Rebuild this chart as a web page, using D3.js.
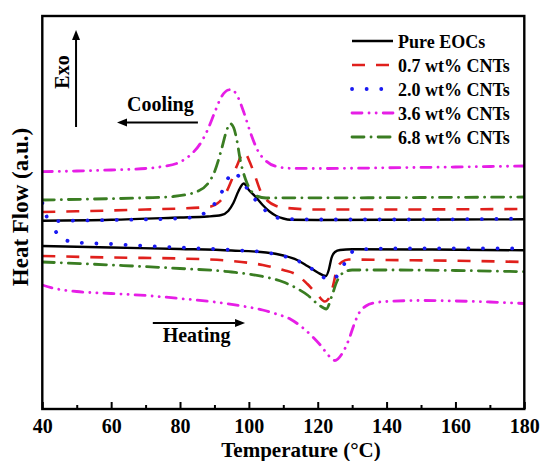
<!DOCTYPE html>
<html>
<head>
<meta charset="utf-8">
<script src="https://cdn.jsdelivr.net/npm/d3@7"></script>
<style>
  body { margin: 0; background: #fff; }
  svg { display: block; }
  text { font-family: "Liberation Serif", "Times New Roman", serif; font-weight: bold; fill: #000; }
</style>
</head>
<body>
<div id="chart"></div>
<script>
// DSC curves: temperature (°C) vs heat flow (a.u., exo up)
const tempTicks = [40, 60, 80, 100, 120, 140, 160, 180];
const minorTicks = [50, 70, 90, 110, 130, 150, 170];
const seriesNames = ["Pure EOCs", "0.7 wt% CNTs", "2.0 wt% CNTs", "3.6 wt% CNTs", "6.8 wt% CNTs"];

// cooling scans
const pureCool = [[40,-22.07],[60,-21.98],[80,-21.75],[88,-21.65],[92,-21.50],[94,-21.10],[95.5,-20.30],[97,-19.10],[98.5,-18.35],[100,-19.00],[102,-19.70],[104,-20.50],[106,-21.15],[108,-21.60],[110,-21.85],[112,-21.98],[120,-22.00],[140,-21.98],[160,-21.95],[180,-21.93]];
const cnt07Cool = [[40,-21.20],[50,-21.13],[60,-21.05],[70,-20.95],[80,-20.85],[86,-20.75],[89,-20.65],[91,-20.30],[93,-19.50],[95,-18.00],[96.5,-16.60],[98.7,-15.20],[100,-16.00],[101.5,-17.30],[103.5,-19.20],[105.5,-20.10],[108,-20.60],[111,-20.80],[120,-20.95],[140,-20.95],[160,-20.93],[180,-20.90]];
const cnt20Cool = [[40,-20.30],[40.8,-20.60],[41.3,-21.70],[42.3,-22.15],[46,-22.10],[60,-22.00],[80,-21.85],[86,-21.50],[88,-21.10],[90,-20.40],[92,-19.30],[94,-17.80],[95.5,-17.20],[97,-17.60],[99,-18.60],[101,-19.60],[103,-20.40],[105,-21.10],[107,-21.55],[110,-21.90],[120,-21.95],[140,-21.95],[160,-21.93],[180,-21.85]];
const cnt36Cool = [[40,-17.17],[50,-17.10],[60,-17.00],[70,-16.85],[75,-16.65],[80,-16.20],[83,-15.50],[86,-14.30],[88,-13.00],[90,-11.30],[92,-9.70],[94,-9.00],[95,-8.95],[96.5,-9.50],[98.5,-11.20],[100.5,-13.30],[102.5,-15.00],[105,-16.10],[108,-16.65],[112,-16.83],[120,-16.85],[140,-16.78],[160,-16.70],[180,-16.60]];
const cnt68Cool = [[40,-20.00],[55,-19.90],[70,-19.78],[78,-19.65],[82,-19.45],[85,-19.15],[88,-18.40],[90,-17.20],[92,-15.00],[93.5,-13.10],[94.5,-12.35],[95.5,-12.70],[96.5,-14.00],[97.5,-16.00],[99,-17.90],[100.5,-19.00],[102,-19.55],[105,-19.80],[110,-19.78],[130,-19.78],[150,-19.75],[180,-19.70]];

// heating scans
const pureHeat = [[40,-24.60],[60,-24.75],[80,-24.90],[95,-25.05],[105,-25.25],[110,-25.55],[114,-26.00],[117,-26.60],[120,-27.25],[122.4,-27.60],[123.2,-27.00],[124,-25.80],[125,-25.20],[126.5,-25.00],[130,-24.93],[150,-24.95],[180,-25.03]];
const cnt07Heat = [[40,-25.60],[60,-25.75],[80,-25.85],[95,-26.10],[104,-26.50],[110,-27.00],[114,-27.50],[117,-28.40],[120,-29.50],[122,-30.15],[123.5,-29.70],[124.5,-28.50],[125.5,-27.00],[127,-26.20],[129,-25.95],[140,-26.00],[160,-26.07],[180,-26.20]];
const cnt20Heat = [[44,-23.20],[46,-23.90],[50,-24.25],[60,-24.40],[70,-24.60],[80,-24.75],[95,-25.00],[105,-25.25],[110,-25.60],[115,-26.20],[119,-27.05],[121.5,-27.70],[123.5,-28.00],[125,-27.80],[126.5,-27.20],[128,-26.20],[129,-25.60],[131,-25.00],[140,-24.85],[160,-24.83],[180,-24.85]];
const cnt36Heat = [[40,-28.50],[43,-28.80],[50,-29.15],[60,-29.35],[70,-29.55],[80,-29.85],[90,-30.20],[98,-30.60],[104,-31.00],[108,-31.40],[112,-31.90],[115,-32.60],[118,-33.50],[121,-34.60],[123,-35.50],[125,-36.05],[127,-35.40],[129,-34.00],[130.5,-32.50],[132,-31.30],[134,-30.60],[137,-30.25],[140,-30.15],[150,-30.05],[160,-30.10],[170,-30.20],[180,-30.35]];
const cnt68Heat = [[40,-26.20],[60,-26.50],[80,-26.85],[95,-27.20],[104,-27.65],[110,-28.20],[114,-28.85],[117,-29.50],[120,-30.40],[122.5,-30.90],[124,-29.70],[125.5,-28.20],[127.5,-27.25],[130,-27.00],[140,-27.00],[160,-27.05],[180,-27.17]];

const coolingSets = [pureCool, cnt07Cool, cnt20Cool, cnt36Cool, cnt68Cool];
const heatingSets = [pureHeat, cnt07Heat, cnt20Heat, cnt36Heat, cnt68Heat];

const colors = ["#000000", "#e0201c", "#1a1af2", "#e61ee6", "#3a7d22"];
const styles = [
  { dash: null, cap: "butt", width: 2.4 },
  { dash: "13 11", cap: "butt", width: 2.6 },
  { dash: "0.1 14.5", cap: "round", width: 3.8 },
  { dash: "10 7 0.1 7 0.1 7", cap: "round", width: 2.8 },
  { dash: "12 7 0.1 7", cap: "round", width: 2.8 }
];

const W = 542, H = 461;
const plot = { left: 42.3, right: 524.3, top: 16, bottom: 409 };

const svg = d3.select("#chart").append("svg").attr("width", W).attr("height", H);

const x = d3.scaleLinear().domain([40, 180]).range([plot.left, plot.right]);
const y = d3.scaleLinear().domain([-40.9, -1.6]).range([plot.bottom, plot.top]);

svg.append("rect").attr("x", 0).attr("y", 0).attr("width", W).attr("height", H).attr("fill", "#fff");

svg.append("clipPath").attr("id", "clip")
  .append("rect").attr("x", plot.left).attr("y", plot.top)
  .attr("width", plot.right - plot.left).attr("height", plot.bottom - plot.top);

const line = d3.line().x(d => x(d[0])).y(d => y(d[1])).curve(d3.curveMonotoneX);

const curves = svg.append("g").attr("clip-path", "url(#clip)");
seriesNames.forEach((name, i) => {
  [coolingSets[i], heatingSets[i]].forEach(data => {
    curves.append("path")
      .datum(data)
      .attr("d", line)
      .attr("fill", "none")
      .attr("stroke", colors[i])
      .attr("stroke-width", styles[i].width)
      .attr("stroke-linecap", styles[i].cap)
      .attr("stroke-linejoin", "round")
      .attr("stroke-dasharray", styles[i].dash);
  });
});

// frame
svg.append("rect")
  .attr("x", plot.left).attr("y", plot.top)
  .attr("width", plot.right - plot.left).attr("height", plot.bottom - plot.top)
  .attr("fill", "none").attr("stroke", "#000").attr("stroke-width", 2.4);

// bottom axis: inward ticks, labels below
const xAxis = d3.axisBottom(x).tickValues(tempTicks).tickSizeInner(-7).tickSizeOuter(0).tickPadding(10);
const axisG = svg.append("g").attr("transform", `translate(0,${plot.bottom})`).call(xAxis);
axisG.select(".domain").remove();
axisG.selectAll(".tick line").attr("stroke", "#000").attr("stroke-width", 2);
axisG.selectAll(".tick text")
  .attr("font-family", '"Liberation Serif", "Times New Roman", serif')
  .attr("font-weight", "bold").attr("font-size", 20).attr("fill", "#000");

const minorG = svg.append("g").attr("transform", `translate(0,${plot.bottom})`)
  .call(d3.axisBottom(x).tickValues(minorTicks).tickSizeInner(-4).tickSizeOuter(0).tickFormat(""));
minorG.select(".domain").remove();
minorG.selectAll(".tick line").attr("stroke", "#000").attr("stroke-width", 2);

// axis titles
svg.append("text")
  .attr("x", 301).attr("y", 457)
  .attr("text-anchor", "middle").attr("font-size", 21)
  .text("Temperature (°C)");

svg.append("text")
  .attr("transform", "translate(28,207) rotate(-90)")
  .attr("text-anchor", "middle").attr("font-size", 23)
  .text("Heat Flow (a.u.)");

// arrow helper
function arrow(x1, y1, x2, y2) {
  const ang = Math.atan2(y2 - y1, x2 - x1);
  const len = 10, half = 4;
  const bx = x2 - len * Math.cos(ang), by = y2 - len * Math.sin(ang);
  svg.append("line")
    .attr("x1", x1).attr("y1", y1).attr("x2", bx).attr("y2", by)
    .attr("stroke", "#000").attr("stroke-width", 2);
  svg.append("path")
    .attr("d", `M${x2},${y2}L${bx - half * Math.sin(ang)},${by + half * Math.cos(ang)}L${bx + half * Math.sin(ang)},${by - half * Math.cos(ang)}Z`)
    .attr("fill", "#000");
}

// Exo direction
arrow(x(49.8), y(-12.7), x(49.8), y(-3.0));
svg.append("text")
  .attr("transform", `translate(${x(47.9)},${y(-7.2)}) rotate(-90)`)
  .attr("text-anchor", "middle").attr("font-size", 20)
  .text("Exo");

// scan directions
arrow(x(85.2), y(-12.25), x(61.7), y(-12.25));
svg.append("text")
  .attr("x", x(74.3)).attr("y", y(-11.1))
  .attr("text-anchor", "middle").attr("font-size", 20)
  .text("Cooling");

arrow(x(72.1), y(-32.3), x(98.9), y(-32.3));
svg.append("text")
  .attr("x", x(84.8)).attr("y", y(-34.15))
  .attr("text-anchor", "middle").attr("font-size", 20)
  .text("Heating");

// legend
const legend = svg.append("g").attr("transform", "translate(352,41)");
seriesNames.forEach((name, i) => {
  const g = legend.append("g").attr("transform", `translate(0,${i * 24})`);
  g.append("line")
    .attr("x1", 0).attr("x2", 41).attr("y1", 0).attr("y2", 0)
    .attr("stroke", colors[i])
    .attr("stroke-width", styles[i].width)
    .attr("stroke-linecap", styles[i].cap)
    .attr("stroke-dasharray", styles[i].dash);
  g.append("text")
    .attr("x", 46).attr("y", 6.5)
    .attr("font-size", 18)
    .text(name);
});
</script>
</body>
</html>
